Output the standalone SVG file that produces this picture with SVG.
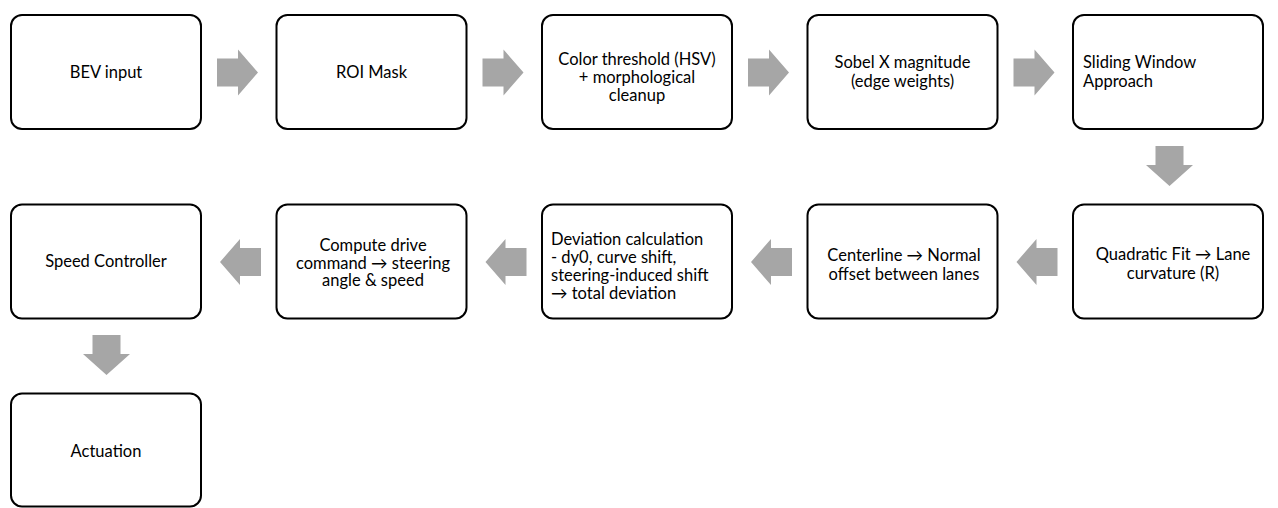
<svg xmlns="http://www.w3.org/2000/svg" width="1278" height="508" viewBox="0 0 1278 508">
  <style>
    .box { fill: #ffffff; stroke: #000000; stroke-width: 2; }
    .arrow { fill: #a6a6a6; stroke: none; }
    text { font-family: Lato, "Liberation Sans", sans-serif; font-size: 16.5px; fill: #000000; }
    .c { text-anchor: middle; }
    .l { text-anchor: start; }
  </style>
  <defs>
    <path id="arrR" d="M0,-14 L21,-14 L21,-23 L41,0 L21,23 L21,14 L0,14 Z"/>
    <path id="arrD" d="M-14,0 L14,0 L14,19 L23.5,19 L0,40 L-23.5,19 L-14,19 Z"/>
  </defs>
  <rect width="1278" height="508" fill="#ffffff"/>

  <g id="connectors">
    <use href="#arrR" class="arrow" transform="translate(217,72.5)"/>
    <use href="#arrR" class="arrow" transform="translate(482.5,72.5)"/>
    <use href="#arrR" class="arrow" transform="translate(748,72.5)"/>
    <use href="#arrR" class="arrow" transform="translate(1013.5,72.5)"/>
    <use href="#arrD" class="arrow" transform="translate(1169.5,146)"/>
    <use href="#arrR" class="arrow" transform="translate(1057.5,262) scale(-1,1)"/>
    <use href="#arrR" class="arrow" transform="translate(792,262) scale(-1,1)"/>
    <use href="#arrR" class="arrow" transform="translate(526.5,262) scale(-1,1)"/>
    <use href="#arrR" class="arrow" transform="translate(261,262) scale(-1,1)"/>
    <use href="#arrD" class="arrow" transform="translate(106.5,335)"/>
  </g>

  <g id="bev">
    <rect class="box" x="11" y="15" width="190" height="114" rx="11"/>
    <text class="c" x="106" y="78">BEV input</text>
  </g>
  <g id="roi">
    <rect class="box" x="276.5" y="15" width="190" height="114" rx="11"/>
    <text class="c" x="371.5" y="78">ROI Mask</text>
  </g>
  <g id="color">
    <rect class="box" x="542" y="15" width="190" height="114" rx="11"/>
    <text class="c" x="637" y="65">Color threshold (HSV)</text>
    <text class="c" x="637" y="83">+ morphological</text>
    <text class="c" x="637" y="101">cleanup</text>
  </g>
  <g id="sobel">
    <rect class="box" x="807.5" y="15" width="190" height="114" rx="11"/>
    <text class="c" x="902.5" y="68">Sobel X magnitude</text>
    <text class="c" x="902.5" y="87">(edge weights)</text>
  </g>
  <g id="sliding">
    <rect class="box" x="1073" y="15" width="190" height="114" rx="11"/>
    <text class="l" x="1083" y="68">Sliding Window</text>
    <text class="l" x="1083" y="87">Approach</text>
  </g>

  <g id="quadratic">
    <rect class="box" x="1073" y="204.5" width="190" height="114" rx="11"/>
    <text class="c" x="1173" y="260">Quadratic Fit → Lane</text>
    <text class="c" x="1173" y="279">curvature (R)</text>
  </g>
  <g id="centerline">
    <rect class="box" x="807.5" y="204.5" width="190" height="114" rx="11"/>
    <text class="c" x="904" y="261">Centerline → Normal</text>
    <text class="c" x="904" y="280">offset between lanes</text>
  </g>
  <g id="deviation">
    <rect class="box" x="542" y="204.5" width="190" height="114" rx="11"/>
    <text class="l" x="551" y="245">Deviation calculation</text>
    <text class="l" x="551" y="263">- dy0, curve shift,</text>
    <text class="l" x="551" y="281">steering-induced shift</text>
    <text class="l" x="551" y="299">→ total deviation</text>
  </g>
  <g id="compute">
    <rect class="box" x="276.5" y="204.5" width="190" height="114" rx="11"/>
    <text class="c" x="373" y="251">Compute drive</text>
    <text class="c" x="373" y="268.5">command → steering</text>
    <text class="c" x="373" y="286">angle &amp; speed</text>
  </g>
  <g id="speed">
    <rect class="box" x="11" y="204.5" width="190" height="114" rx="11"/>
    <text class="c" x="106" y="267">Speed Controller</text>
  </g>
  <g id="actuation">
    <rect class="box" x="11" y="393.5" width="190" height="113" rx="11"/>
    <text class="c" x="106" y="457">Actuation</text>
  </g>
</svg>
